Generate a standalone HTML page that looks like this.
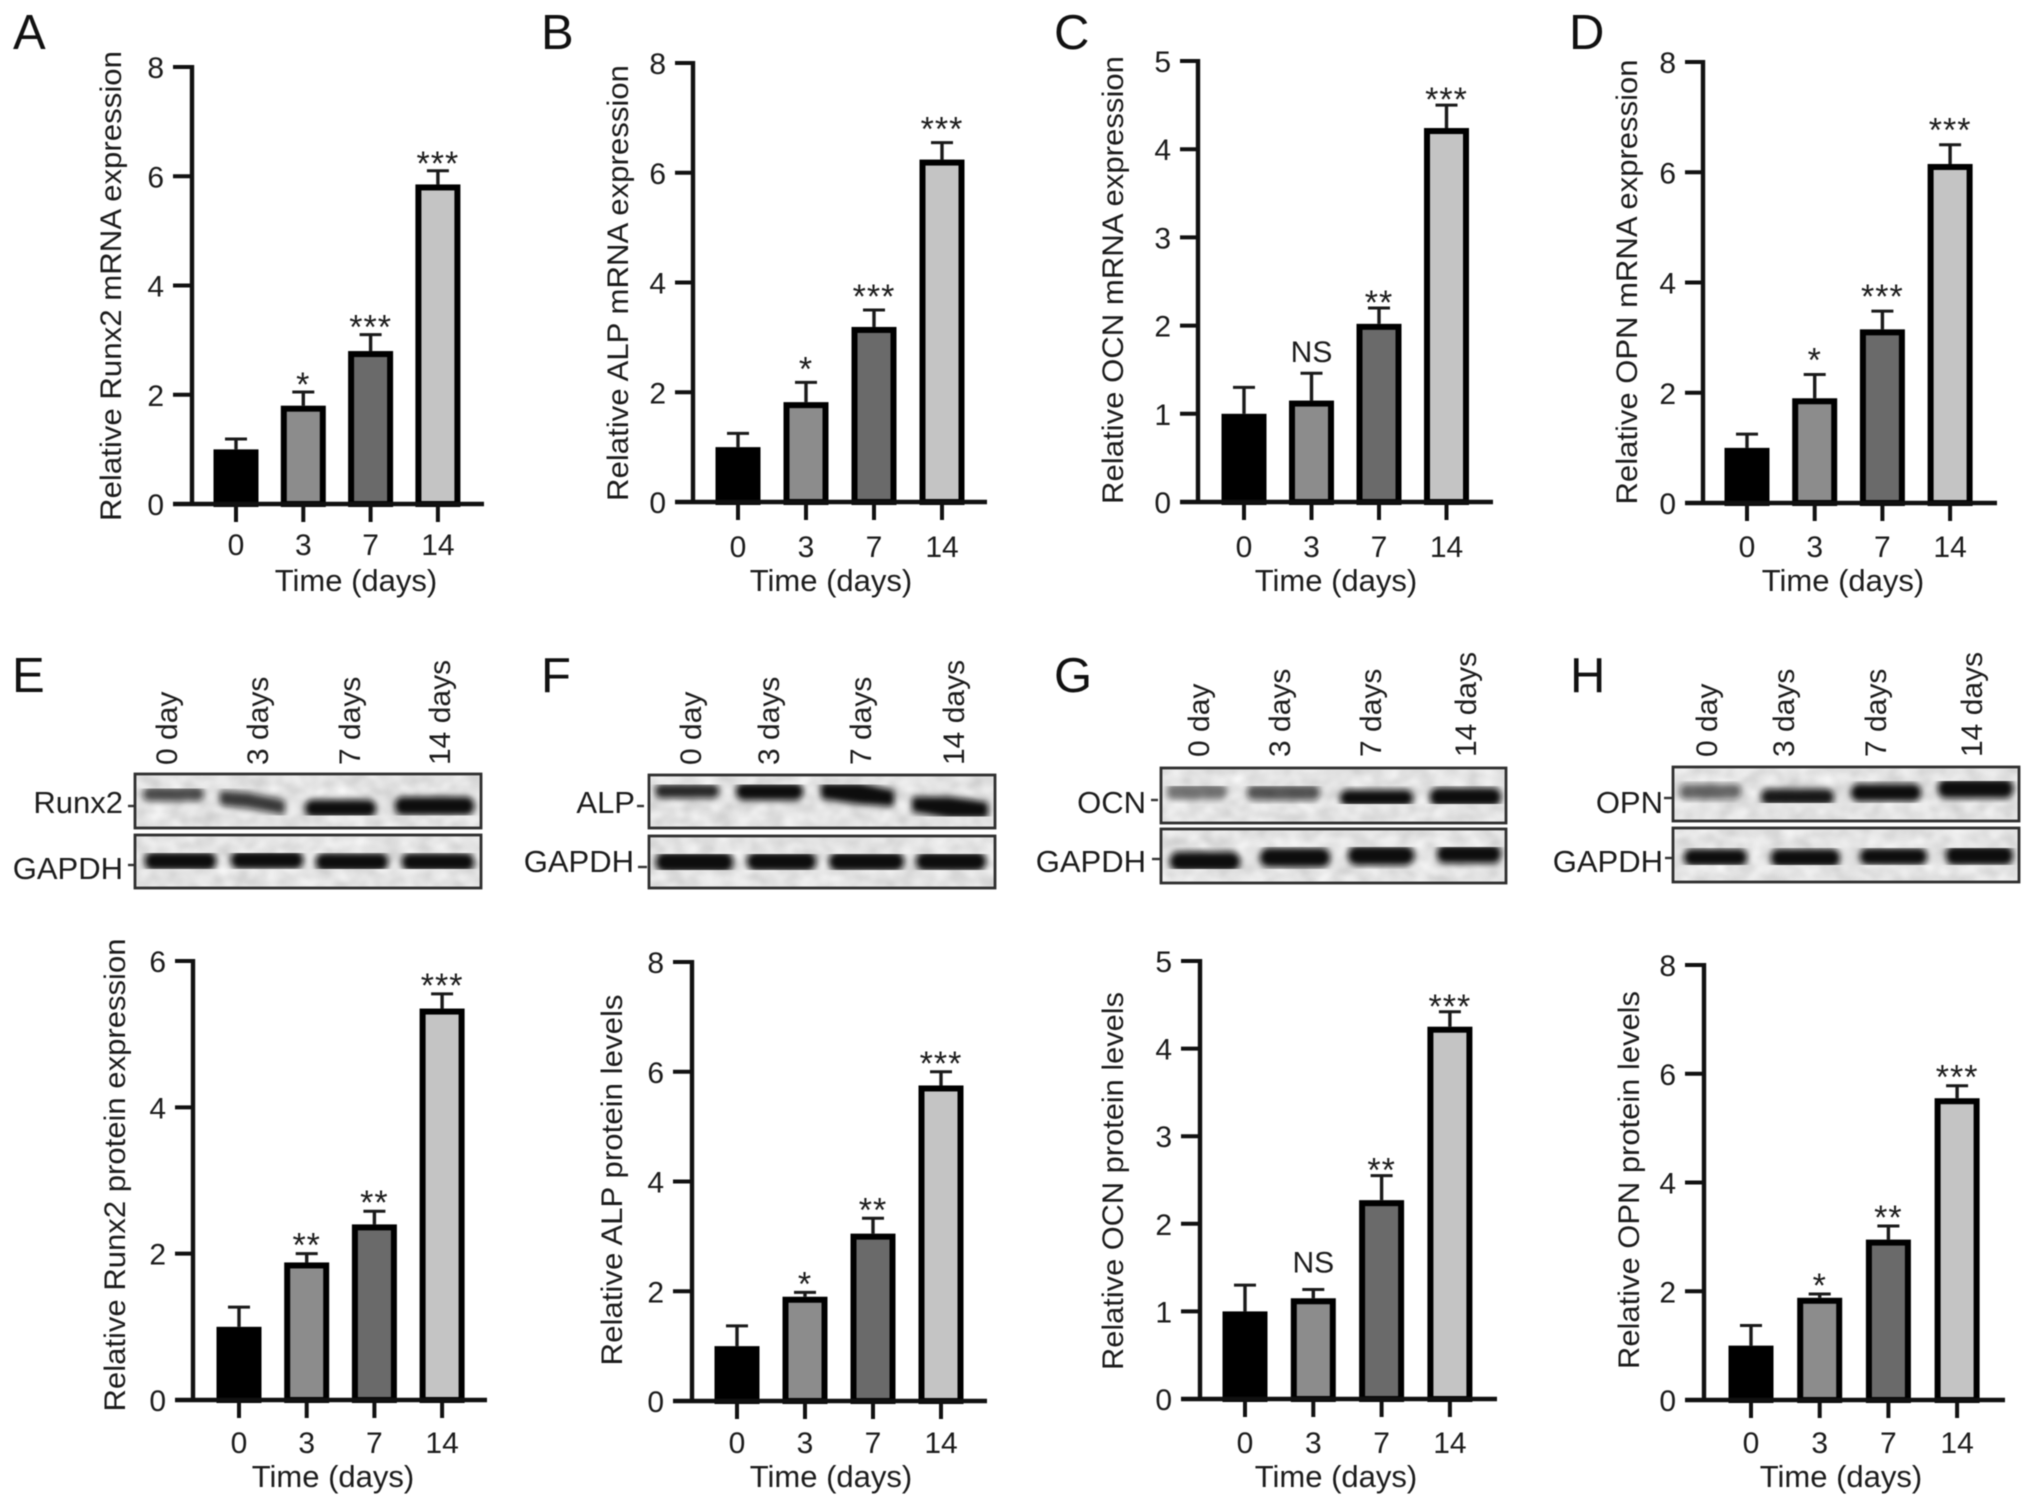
<!DOCTYPE html>
<html lang="en">
<head>
<meta charset="utf-8">
<title>Osteogenic marker expression over time</title>
<style>
html,body{margin:0;padding:0;background:#fff}
svg{display:block;filter:blur(0.55px)}
text{font-family:"Liberation Sans",sans-serif;fill:#1c1c1c}
.letter{font-size:49px;fill:#111}
.lane{font-size:30px}
.row{font-size:31px;text-anchor:end}
.frame{fill:none;stroke:#2e2e2e;stroke-width:2.8}
.tk{stroke:#333;stroke-width:2.4}
.band{fill:#0c0c0c;stroke:#0c0c0c;stroke-width:6.5;stroke-linejoin:round}
.bands{filter:url(#bandBlur)}
</style>
</head>
<body>
<svg id="figure" xmlns="http://www.w3.org/2000/svg" width="2032" height="1507" viewBox="0 0 2032 1507">
<defs>
<filter id="bandBlur" x="-5%" y="-5%" width="110%" height="110%"><feGaussianBlur stdDeviation="3.2"/></filter>
<filter id="mottle" x="0" y="0" width="100%" height="100%" color-interpolation-filters="sRGB">
<feTurbulence type="fractalNoise" baseFrequency="0.06 0.08" numOctaves="2" seed="7"/>
<feColorMatrix type="matrix" values="0.22 0 0 0 0.78  0.22 0 0 0 0.78  0.22 0 0 0 0.78  0 0 0 0 1"/>
<feGaussianBlur stdDeviation="1.5"/>
</filter>
</defs>
<rect width="2032" height="1507" fill="#fff"/>

<g>
<text class="letter" x="13" y="49">A</text>
<text class="letter" x="541" y="49">B</text>
<text class="letter" x="1054" y="49">C</text>
<text class="letter" x="1569" y="49">D</text>
<text class="letter" x="12" y="692">E</text>
<text class="letter" x="541" y="692">F</text>
<text class="letter" x="1054" y="692">G</text>
<text class="letter" x="1570" y="692">H</text>
</g>

<g>
<text class="lane" transform="translate(177,765) rotate(-90)">0 day</text>
<text class="lane" transform="translate(268,765) rotate(-90)">3 days</text>
<text class="lane" transform="translate(360,765) rotate(-90)">7 days</text>
<text class="lane" transform="translate(450,765) rotate(-90)">14 days</text>
<text class="row" x="123" y="813">Runx2</text>
<line class="tk" x1="128" x2="135" y1="806" y2="806"/>
<text class="row" x="123" y="879">GAPDH</text>
<line class="tk" x1="128" x2="135" y1="865" y2="865"/>
<rect x="135" y="774" width="346" height="54" filter="url(#mottle)"/>
<g class="bands">
<rect class="band" x="146" y="790" width="55" height="8" rx="4" opacity=".72"/>
<polygon class="band" points="223,794 250,796 282,803 282,811 250,805 223,802" opacity=".8"/>
<rect class="band" x="308" y="803" width="65" height="11" rx="5"/>
<rect class="band" x="398" y="800" width="73" height="12" rx="5"/>
</g>
<rect class="frame" x="135" y="774" width="346" height="54"/>
<rect x="135" y="835" width="346" height="53" filter="url(#mottle)"/>
<g class="bands">
<rect class="band" x="148" y="855" width="65" height="12" rx="5"/>
<rect class="band" x="234" y="854" width="66" height="12" rx="5"/>
<rect class="band" x="319" y="856" width="66" height="12" rx="5"/>
<rect class="band" x="405" y="856" width="66" height="12" rx="5"/>
</g>
<rect class="frame" x="135" y="835" width="346" height="53"/>
</g>

<g>
<text class="lane" transform="translate(701,765) rotate(-90)">0 day</text>
<text class="lane" transform="translate(779,765) rotate(-90)">3 days</text>
<text class="lane" transform="translate(871,765) rotate(-90)">7 days</text>
<text class="lane" transform="translate(964,765) rotate(-90)">14 days</text>
<text class="row" x="635" y="813">ALP</text>
<line class="tk" x1="637" x2="644" y1="806" y2="806"/>
<text class="row" x="634" y="872">GAPDH</text>
<line class="tk" x1="638" x2="647" y1="867" y2="867"/>
<rect x="649" y="775" width="346" height="53" filter="url(#mottle)"/>
<g class="bands">
<rect class="band" x="658" y="787" width="58" height="8" rx="4" opacity=".88"/>
<rect class="band" x="739" y="786" width="61" height="11" rx="5"/>
<polygon class="band" points="824,786 860,786 891,793 891,803 860,801 824,796"/>
<polygon class="band" points="915,800 950,800 985,805 985,815 950,815 915,809"/>
</g>
<rect class="frame" x="649" y="775" width="346" height="53"/>
<rect x="649" y="836" width="346" height="52" filter="url(#mottle)"/>
<g class="bands">
<rect class="band" x="659" y="855" width="71" height="14" rx="6"/>
<rect class="band" x="750" y="855" width="63" height="13" rx="6"/>
<rect class="band" x="832" y="855" width="69" height="13" rx="6"/>
<rect class="band" x="919" y="855" width="64" height="13" rx="6"/>
</g>
<rect class="frame" x="649" y="836" width="346" height="52"/>
</g>

<g>
<text class="lane" transform="translate(1209,757) rotate(-90)">0 day</text>
<text class="lane" transform="translate(1290,757) rotate(-90)">3 days</text>
<text class="lane" transform="translate(1381,757) rotate(-90)">7 days</text>
<text class="lane" transform="translate(1476,757) rotate(-90)">14 days</text>
<text class="row" x="1146" y="813">OCN</text>
<line class="tk" x1="1151" x2="1158" y1="800" y2="800"/>
<text class="row" x="1146" y="872">GAPDH</text>
<line class="tk" x1="1152" x2="1161" y1="859" y2="859"/>
<rect x="1161" y="768" width="345" height="55" filter="url(#mottle)"/>
<g class="bands">
<rect class="band" x="1170" y="787" width="54" height="9" rx="4" opacity=".5"/>
<rect class="band" x="1250" y="788" width="67" height="9" rx="4" opacity=".68"/>
<rect class="band" x="1343" y="793" width="67" height="10" rx="5"/>
<rect class="band" x="1433" y="791" width="65" height="12" rx="5"/>
</g>
<rect class="frame" x="1161" y="768" width="345" height="55"/>
<rect x="1161" y="829" width="345" height="54" filter="url(#mottle)"/>
<g class="bands">
<rect class="band" x="1173" y="855" width="64" height="13" rx="6"/>
<rect class="band" x="1263" y="851" width="64" height="13" rx="6"/>
<rect class="band" x="1351" y="849" width="60" height="13" rx="6"/>
<rect class="band" x="1440" y="848" width="58" height="12" rx="5"/>
</g>
<rect class="frame" x="1161" y="829" width="345" height="54"/>
</g>

<g>
<text class="lane" transform="translate(1717,757) rotate(-90)">0 day</text>
<text class="lane" transform="translate(1794,757) rotate(-90)">3 days</text>
<text class="lane" transform="translate(1886,757) rotate(-90)">7 days</text>
<text class="lane" transform="translate(1982,757) rotate(-90)">14 days</text>
<text class="row" x="1663" y="813">OPN</text>
<line class="tk" x1="1664" x2="1673" y1="798" y2="798"/>
<text class="row" x="1663" y="872">GAPDH</text>
<line class="tk" x1="1665" x2="1673" y1="858" y2="858"/>
<rect x="1673" y="767" width="346" height="54" filter="url(#mottle)"/>
<g class="bands" transform="translate(-3,0)">
<rect class="band" x="1686" y="787" width="55" height="9" rx="4" opacity=".6"/>
<rect class="band" x="1767" y="792" width="67" height="10" rx="5" opacity=".95"/>
<rect class="band" x="1857" y="787" width="64" height="11" rx="5"/>
<rect class="band" x="1944" y="782" width="69" height="13" rx="5"/>
</g>
<rect class="frame" x="1673" y="767" width="346" height="54"/>
<rect x="1673" y="828" width="346" height="54" filter="url(#mottle)"/>
<g class="bands" transform="translate(-3,0)">
<rect class="band" x="1690" y="852" width="57" height="11" rx="5"/>
<rect class="band" x="1777" y="852" width="63" height="12" rx="5"/>
<rect class="band" x="1866" y="851" width="61" height="11" rx="5"/>
<rect class="band" x="1952" y="849" width="61" height="13" rx="5"/>
</g>
<rect class="frame" x="1673" y="828" width="346" height="54"/>
</g>
</svg>

<script>
const categories = ['0', '3', '7', '14'];
const barFills = ['#000000', '#8c8c8c', '#6a6a6a', '#c4c4c4'];
const ticksEight = [0, 2, 4, 6, 8];
const ticksSix = [0, 2, 4, 6];
const ticksFive = [0, 1, 2, 3, 4, 5];

const runx2MrnaMeans = [1.0, 1.8, 2.8, 5.85];
const runx2MrnaUpper = [1.19, 2.05, 3.1, 6.1];
const runx2MrnaSig = ['', '*', '***', '***'];

const alpMrnaMeans = [1.0, 1.82, 3.19, 6.24];
const alpMrnaUpper = [1.25, 2.18, 3.5, 6.55];
const alpMrnaSig = ['', '*', '***', '***'];

const ocnMrnaMeans = [1.0, 1.15, 2.02, 4.24];
const ocnMrnaUpper = [1.3, 1.46, 2.2, 4.5];
const ocnMrnaSig = ['', 'NS', '**', '***'];

const opnMrnaMeans = [1.0, 1.9, 3.15, 6.15];
const opnMrnaUpper = [1.25, 2.33, 3.48, 6.5];
const opnMrnaSig = ['', '*', '***', '***'];

const runx2ProteinMeans = [1.0, 1.88, 2.4, 5.35];
const runx2ProteinUpper = [1.27, 2.0, 2.58, 5.55];
const runx2ProteinSig = ['', '**', '**', '***'];

const alpProteinMeans = [1.0, 1.9, 3.05, 5.75];
const alpProteinUpper = [1.37, 1.98, 3.33, 6.0];
const alpProteinSig = ['', '*', '**', '***'];

const ocnProteinMeans = [1.0, 1.15, 2.27, 4.25];
const ocnProteinUpper = [1.3, 1.25, 2.55, 4.42];
const ocnProteinSig = ['', 'NS', '**', '***'];

const opnProteinMeans = [1.0, 1.88, 2.95, 5.55];
const opnProteinUpper = [1.37, 1.95, 3.2, 5.78];
const opnProteinSig = ['', '*', '**', '***'];

const charts = [
  {key:'a-runx2-mrna', means:runx2MrnaMeans, upper:runx2MrnaUpper, sig:runx2MrnaSig, ticks:ticksEight, title:'Relative Runx2 mRNA expression', sigLift:2, nsLift:11,
   axisX:192, baseY:504, topY:67, firstX:236, stepX:67.3, leftX:173, rightX:484, titleX:121, titleY:286, titleLen:470, timeX:356, tickBase:555, timeBase:591},
  {key:'b-alp-mrna', means:alpMrnaMeans, upper:alpMrnaUpper, sig:alpMrnaSig, ticks:ticksEight, title:'Relative ALP mRNA expression', sigLift:8, nsLift:11,
   axisX:693, baseY:502, topY:63, firstX:738, stepX:68, leftX:675, rightX:987, titleX:628, titleY:283, titleLen:436, timeX:831, tickBase:557, timeBase:591},
  {key:'c-ocn-mrna', means:ocnMrnaMeans, upper:ocnMrnaUpper, sig:ocnMrnaSig, ticks:ticksFive, title:'Relative OCN mRNA expression', sigLift:0, nsLift:11,
   axisX:1198, baseY:502, topY:61, firstX:1244, stepX:67.5, leftX:1180, rightX:1493, titleX:1123, titleY:280, titleLen:448, timeX:1336, tickBase:557, timeBase:591},
  {key:'d-opn-mrna', means:opnMrnaMeans, upper:opnMrnaUpper, sig:opnMrnaSig, ticks:ticksEight, title:'Relative OPN mRNA expression', sigLift:9, nsLift:11,
   axisX:1703, baseY:503, topY:62, firstX:1747, stepX:67.7, leftX:1685, rightX:1997, titleX:1637, titleY:282, titleLen:445, timeX:1843, tickBase:557, timeBase:591},
  {key:'e-runx2-protein', means:runx2ProteinMeans, upper:runx2ProteinUpper, sig:runx2ProteinSig, ticks:ticksSix, title:'Relative Runx2 protein expression', sigLift:3, nsLift:11,
   axisX:193, baseY:1400, topY:961, firstX:239, stepX:67.7, leftX:175, rightX:487, titleX:125, titleY:1175, titleLen:473, timeX:333, tickBase:1453, timeBase:1487},
  {key:'f-alp-protein', means:alpProteinMeans, upper:alpProteinUpper, sig:alpProteinSig, ticks:ticksEight, title:'Relative ALP protein levels', sigLift:3, nsLift:11,
   axisX:692, baseY:1401, topY:962, firstX:737, stepX:68, leftX:673, rightX:987, titleX:622, titleY:1180, titleLen:371, timeX:831, tickBase:1453, timeBase:1487},
  {key:'g-ocn-protein', means:ocnProteinMeans, upper:ocnProteinUpper, sig:ocnProteinSig, ticks:ticksFive, title:'Relative OCN protein levels', sigLift:0, nsLift:17,
   axisX:1200, baseY:1399, topY:961, firstX:1245, stepX:68.3, leftX:1181, rightX:1497, titleX:1123, titleY:1181, titleLen:378, timeX:1336, tickBase:1453, timeBase:1487},
  {key:'h-opn-protein', means:opnProteinMeans, upper:opnProteinUpper, sig:opnProteinSig, ticks:ticksEight, title:'Relative OPN protein levels', sigLift:3, nsLift:11,
   axisX:1704, baseY:1400, topY:965, firstX:1751, stepX:68.7, leftX:1685, rightX:2005, titleX:1639, titleY:1180, titleLen:378, timeX:1841, tickBase:1453, timeBase:1487}
];

const NS = 'http://www.w3.org/2000/svg';
const root = document.getElementById('figure');

function make(parent, tag, props, content) {
  const node = document.createElementNS(NS, tag);
  Object.keys(props).forEach(function (k) { node.setAttribute(k, props[k]); });
  if (content !== undefined) node.textContent = content;
  parent.appendChild(node);
  return node;
}

charts.forEach(function (c) {
  const yMax = c.ticks[c.ticks.length - 1];
  const yScale = function (v) { return c.baseY - (v / yMax) * (c.baseY - c.topY); };
  const xScale = function (i) { return c.firstX + i * c.stepX; };

  const chart = make(root, 'g', {});
  
  

  categories.forEach(function (cat, i) {
    const cx = xScale(i);
    const errTop = yScale(c.upper[i]);

    const stem = make(chart, 'line', {x1:cx, x2:cx, y1:yScale(c.means[i]), y2:errTop, stroke:'#1a1a1a', 'stroke-width':3.4});
    
    

    const cap = make(chart, 'line', {x1:cx - 11, x2:cx + 11, y1:errTop, y2:errTop, stroke:'#1a1a1a', 'stroke-width':3});
    
    

    const top = yScale(c.means[i]);
    const bar = make(chart, 'rect', {x:cx - 19.5, y:top + 3, width:39, height:c.baseY - top - 3, fill:barFills[i], stroke:'#000', 'stroke-width':6});
    
    

    const xTick = make(chart, 'line', {x1:cx, x2:cx, y1:c.baseY, y2:c.baseY + 18, stroke:'#111', 'stroke-width':4});
    
    

    const xLabel = make(chart, 'text', {x:cx, y:c.tickBase, 'text-anchor':'middle', 'font-size':30}, cat);
    
    

    if (c.sig[i]) {
      const isNs = c.sig[i] === 'NS';
      const mark = make(chart, 'text', {
        x: cx,
        y: isNs ? errTop - c.nsLift : errTop + 6 - c.sigLift,
        'text-anchor': 'middle',
        'font-size': isNs ? 30 : 34,
        'letter-spacing': isNs ? 0 : 1
      }, c.sig[i]);
      
      
    }
  });

  const yAxis = make(chart, 'line', {x1:c.axisX, x2:c.axisX, y1:c.topY - 2, y2:c.baseY + 2, stroke:'#111', 'stroke-width':4.4});
  
  

  const xAxis = make(chart, 'line', {x1:c.leftX, x2:c.rightX, y1:c.baseY, y2:c.baseY, stroke:'#111', 'stroke-width':4.4});
  
  

  c.ticks.forEach(function (t) {
    const ty = yScale(t);

    const yTick = make(chart, 'line', {x1:c.leftX, x2:c.axisX, y1:ty, y2:ty, stroke:'#111', 'stroke-width':4});
    
    

    const yLabel = make(chart, 'text', {x:c.leftX - 9, y:ty + 11, 'text-anchor':'end', 'font-size':30}, String(t));
    
    
  });

  const yTitle = make(chart, 'text', {
    transform: 'translate(' + c.titleX + ',' + c.titleY + ') rotate(-90)',
    'text-anchor': 'middle',
    'font-size': 30,
    textLength: c.titleLen,
    lengthAdjust: 'spacingAndGlyphs'
  }, c.title);
  
  

  const xTitle = make(chart, 'text', {x:c.timeX, y:c.timeBase, 'text-anchor':'middle', 'font-size':31}, 'Time (days)');
  
  
});
</script>
</body>
</html>
